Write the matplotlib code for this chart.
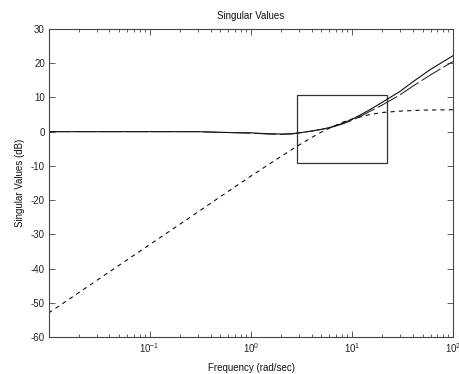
import matplotlib
matplotlib.use("Agg")
import matplotlib.pyplot as plt
from matplotlib.patches import Rectangle

plt.rcParams['font.family'] = ['Liberation Sans', 'DejaVu Sans']
plt.rcParams['mathtext.default'] = 'regular'
plt.rcParams['axes.unicode_minus'] = False
plt.rcParams['lines.scale_dashes'] = False

# --- data ---
w_solid = [0.01, 0.1, 0.3, 0.5, 1.0, 1.5, 2.0, 2.5, 3.0, 4.0, 5.0, 6.0, 8.0, 10.0,
           12.0, 15.0, 20.0, 30.0, 42.0, 60.0, 100.0]
sv_solid = [0.0, 0.0, 0.0, -0.2, -0.35, -0.6, -0.7, -0.6, -0.35, 0.2, 0.7, 1.2, 2.4, 3.6,
            4.8, 6.4, 8.6, 11.8, 15.0, 18.2, 22.2]

w_longdash = [0.01, 0.1, 0.3, 0.5, 1.0, 1.5, 2.0, 2.5, 3.0, 4.0, 5.0, 6.0, 8.0, 10.0,
              12.0, 15.0, 20.0, 30.0, 42.0, 60.0, 100.0]
sv_longdash = [0.0, 0.0, 0.0, -0.2, -0.45, -0.7, -0.8, -0.7, -0.4, 0.15, 0.65, 1.1, 2.2, 3.3,
               4.4, 5.9, 7.8, 10.8, 13.7, 16.6, 20.5]

w_dashed = [0.01, 0.02, 0.05, 0.1, 0.2, 0.5, 1.0, 2.0, 3.0, 4.0, 5.0, 6.0, 8.0, 10.0,
            15.0, 20.0, 30.0, 50.0, 100.0]
sv_dashed = [-53.0, -47.0, -39.0, -33.0, -27.0, -19.0, -13.0, -7.2, -3.9, -1.7, -0.1, 1.0,
             2.7, 3.7, 5.0, 5.6, 6.0, 6.3, 6.4]

box_w = [2.85, 22.0]
box_db = [-9.2, 10.7]

x_ticks = [0.1, 1, 10, 100]
y_ticks = [-60, -50, -40, -30, -20, -10, 0, 10, 20, 30]

# --- figure ---
fig = plt.figure(figsize=(4.59, 3.74), dpi=100)
ax = fig.add_axes([0.1068, 0.0989, 0.8802, 0.8236])

ax.plot(w_solid, sv_solid, color='black', lw=0.75)
ax.plot(w_longdash, sv_longdash, color='#222222', lw=0.75, dashes=(16, 2.5))
ax.plot(w_dashed, sv_dashed, color='black', lw=0.75, dashes=(3, 3))

ax.add_patch(Rectangle((box_w[0], box_db[0]), box_w[1] - box_w[0], box_db[1] - box_db[0],
                       fill=False, edgecolor='#333333', lw=0.9))

ax.set_xscale('log')
ax.set_xlim(0.0101, 100)
ax.set_ylim(-60, 30)
ax.set_xticks(x_ticks)
ax.set_yticks(y_ticks)

for s in ax.spines.values():
    s.set_color('#444444')
    s.set_linewidth(0.8)

ax.tick_params(which='both', direction='in', top=True, right=True,
               colors='#444444', labelcolor='#222222', labelsize=7, width=0.6)
ax.tick_params(which='major', length=4, pad=3)
ax.tick_params(which='minor', length=2)

ax.set_title('Singular Values', fontsize=7, color='#111111', pad=7)
ax.set_xlabel('Frequency (rad/sec)', fontsize=7, color='#111111', labelpad=6)
ax.set_ylabel('Singular Values (dB)', fontsize=7, color='#111111', labelpad=4)

fig.savefig('out.png', dpi=100)
